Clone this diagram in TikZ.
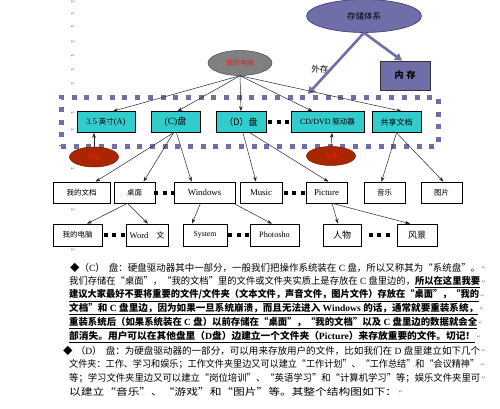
\documentclass[tikz,border=0pt]{standalone}
\usepackage{fontspec}
\usepackage{graphicx}
\setmainfont{Liberation Serif}
\newfontfamily\cjk{Noto Sans CJK SC}
\newfontfamily\dv{DejaVu Sans}
\usetikzlibrary{arrows.meta,calc,shapes.geometric}
\definecolor{slate}{RGB}{112,110,168}
\definecolor{slatedark}{RGB}{62,60,112}
\definecolor{teal1}{RGB}{51,204,204}
\definecolor{redtxt}{RGB}{235,30,30}
\definecolor{brick}{RGB}{170,38,0}
\newcommand\ret{{\dv\fontsize{5}{5}\selectfont\color{gray}↵}}
\newcommand\bx[1]{\cjk\fontsize{#1}{#1}\selectfont}
\newcommand\lx[2]{{\rmfamily\fontsize{#1}{#1}\selectfont #2}}
\newcommand\pt[1]{{\rmfamily #1}}
\newcommand\bu[1]{\underline{\bfseries #1}}
\begin{document}
\begin{tikzpicture}[x=1pt,y=-1pt,
  tealbox/.style={draw=black, fill=teal1, line width=0.6pt, inner sep=0pt, minimum height=21pt},
  whitebox/.style={draw=black, fill=white, line width=0.6pt, inner sep=0pt, minimum height=21pt},
  arr/.style={draw=black!85, line width=0.5pt, -{Stealth[length=5pt,width=3.6pt]}},
  bigarr/.style={draw=slate, line width=2.6pt, -{Triangle[length=7pt,width=8pt]}},
  dotlink/.style={draw=black, line width=4pt, dash pattern=on 4pt off 4.5pt},
  margin/.style={inner sep=0pt},
  pline/.style={anchor=west, inner sep=0pt},
  redell/.style={ellipse, draw=brick!70!black, fill=brick, line width=0.5pt, inner sep=0pt, minimum width=49pt, minimum height=20pt, text=redtxt}
]
\useasboundingbox (0,0) rectangle (500,408);
\fill[white] (0,0) rectangle (500,408);

% margin return marks
\foreach \yy [count=\i] in {2,14,27,42,56,70,84,113,130,169,210,250}
  \node[margin] (m\i) at (73,\yy) {\ret};

% dotted frame
\node[draw=slate, line width=5pt, dash pattern=on 5pt off 7.7pt, minimum width=377pt, minimum height=49pt, inner sep=0pt] (frame) at (249.5,121.5) {};

% storage system
\node[ellipse, draw=slatedark, fill=slate, line width=0.6pt, minimum width=115pt, minimum height=33pt, inner sep=0pt] (st) at (364,16) {\bx{8.5}存储体系};
\node[draw=black!80, fill=slate, line width=0.8pt, minimum width=50pt, minimum height=29pt, inner sep=0pt] (nc) at (405,75.5) {\bx{9}\bfseries 内\hspace{3pt}存};
\node[inner sep=0pt] (wc) at (322,69) {\bx{8.5}外存\ret};
\coordinate (wcend) at (308,94);
\draw[bigarr] (st.south) -- (wcend);
\draw[bigarr] (st.south) -- ([xshift=-3pt]nc.north);

% my computer
\node[ellipse, draw=black!70, fill=black!50, line width=0.5pt, minimum width=64pt, minimum height=25pt, inner sep=0pt, text=redtxt] (pc) at (240,63) {\bx{7}我的电脑};

% row 1
\node[tealbox, minimum width=58pt] (A) at (106,122) {\bx{7.5}\lx{8.5}{3.5} 英寸\lx{8.5}{(A)}};
\node[tealbox, minimum width=49pt] (C) at (175.5,122) {\bx{9}\lx{9.5}{(C)}盘};
\node[tealbox, minimum width=50pt] (D) at (241,122) {\bx{9}（D）盘};
\node[tealbox, minimum width=73pt] (CD) at (327.5,122) {\bx{7.5}\lx{8}{CD/DVD} 驱动器};
\node[tealbox, minimum width=49pt] (S) at (396.5,122) {\bx{8}共享文档};

% red ellipses
\node[redell] (rl) at (94,157) {\bx{6.5}软盘};
\node[redell, minimum height=19pt] (rr) at (331,156) {\bx{6.5}光盘};

% row 2
\node[whitebox, minimum width=57pt] (wd) at (81.5,192.5) {\bx{7.5}我的文档};
\node[whitebox, minimum width=41pt] (zm) at (134.5,192.5) {\bx{7.5}桌面};
\node[whitebox, minimum width=61pt] (win) at (204.5,192.5) {\lx{8.8}{Windows}};
\node[whitebox, minimum width=42pt] (mus) at (261,192.5) {\lx{8.8}{Music}};
\node[whitebox, minimum width=41pt] (pic) at (326.5,192.5) {\lx{8.8}{Picture}};
\node[whitebox, minimum width=41pt] (yy) at (384.5,192.5) {\bx{7.5}音乐};
\node[whitebox, minimum width=41pt] (tp) at (441.5,192.5) {\bx{7.5}图片};

% row 3
\node[whitebox, minimum width=49pt, minimum height=22pt] (dn) at (77.5,235) {\bx{7.5}我的电脑};
\node[whitebox, minimum width=42pt, minimum height=22pt] (word) at (147,235) {\bx{8}\lx{8.5}{Word}\hspace{8pt}文};
\node[whitebox, minimum width=44pt, minimum height=22pt] (sys) at (205,235) {\lx{7.8}{System}};
\node[whitebox, minimum width=49pt, minimum height=22pt] (ps) at (274.5,235) {\lx{8.2}{Photosho}};
\node[whitebox, minimum width=38pt, minimum height=22pt] (rw) at (342,235) {\bx{9}人物};
\node[whitebox, minimum width=40pt, minimum height=22pt] (fj) at (417,235) {\bx{9}风景};

% three-dot links
\foreach \a/\b in {D/CD, zm/win, mus/pic, dn/word, sys/ps, rw/fj}
  \draw[dotlink] ($(\a.east)!0.5!(\b.west)$) ++(-10.5,0) -- ++(21,0);

% arrows from my computer
\draw[arr] (pc.south) -- ([xshift=7pt]A.north);
\draw[arr] (pc.south) -- ([xshift=2pt]C.north);
\draw[arr] (pc.south) -- (D.north);
\draw[arr] (pc.south) -- ([xshift=-15pt]CD.north);
\draw[arr] (pc.south) -- ([xshift=5pt]S.north);

% red ellipse arrows
\draw[arr] (rl.north) -- ([xshift=-12pt]A.south);
\draw[arr] (rr.north) -- ([xshift=4.5pt]CD.south);

% tree arrows
\draw[arr] ([xshift=-2pt]C.south) -- ([xshift=14pt]wd.north);
\draw[arr] ([xshift=-2pt]C.south) -- ([xshift=9pt]zm.north);
\draw[arr] ([xshift=1pt]C.south) -- ([xshift=-13pt]win.north);
\draw[arr] ([xshift=2pt]D.south) -- ([xshift=-5pt]mus.north);
\draw[arr] ([xshift=9pt]D.south) -- ([xshift=2pt]pic.north);
\draw[arr] ([xshift=0pt]S.south) -- ([xshift=-3pt]yy.north);
\draw[arr] ([xshift=0pt]S.south) -- ([xshift=2pt]tp.north);
\draw[arr] ([xshift=-7pt]zm.south) -- ([xshift=9.5pt]dn.north);
\draw[arr] ([xshift=-7pt]zm.south) -- ([xshift=1pt]word.north);
\draw[arr] ([xshift=-4pt]win.south) -- ([xshift=-13pt]sys.north);
\draw[arr] ([xshift=-2pt]win.south east) -- ([xshift=-2.5pt]ps.north);
\draw[arr] ([xshift=5.5pt]pic.south) -- ([xshift=-4pt]rw.north);
\draw[arr] ([xshift=5.5pt]pic.south) -- ([xshift=-7pt]fj.north);

% paragraph
\node[pline] (l1) at (70,268) {\resizebox{410pt}{\height}{\bx{9.5}◆（\pt{C}）\hspace{4pt}盘：硬盘驱动器其中一部分，一般我们把操作系统装在\pt{ C }盘，所以又称其为“系统盘”。}};
\node[pline] (l2) at (69,281.8) {\resizebox{411pt}{\height}{\bx{9.5}我们存储在“桌面”，“我的文档”里的文件或文件夹实质上是存放在\pt{ C }盘里边的，\bu{所以在这里我要}}};
\node[pline] (l3) at (69,295.6) {\resizebox{410pt}{\height}{\bx{9.5}\bu{建议大家最好不要将重要的文件/文件夹（文本文件，声音文件，图片文件）存放在“桌面”，“我的}}};
\node[pline] (l4) at (69,309.4) {\resizebox{409pt}{\height}{\bx{9.5}\bu{文档”和\pt{ C }盘里边，因为如果一旦系统崩溃，而且无法进入\pt{ Windows }的话，通常就要重装系统，}}};
\node[pline] (l5) at (69,323.2) {\resizebox{408pt}{\height}{\bx{9.5}\bu{重装系统后（如果系统装在\pt{ C }盘）以前存储在“桌面”，“我的文档”以及\pt{ C }盘里边的数据就会全}}};
\node[pline] (l6) at (69,337) {\resizebox{406pt}{\height}{\bx{9.5}\bu{部消失。用户可以在其他盘里（\pt{D}盘）边建立一个文件夹（\pt{Picture}）来存放重要的文件。切记！}}};
\node[pline] (l7) at (63,350.8) {\resizebox{417pt}{\height}{\bx{9.5}◆\hspace{3pt}（\pt{D}）\hspace{4pt}盘：为硬盘驱动器的一部分，可以用来存放用户的文件，比如我们在\pt{ D }盘里建立如下几个}};
\node[pline] (l8) at (69,364.6) {\resizebox{410pt}{\height}{\bx{9.5}文件夹：工作、学习和娱乐；工作文件夹里边又可以建立“工作计划”、“工作总结”和“会议精神”}};
\node[pline] (l9) at (69,378.4) {\resizebox{411pt}{\height}{\bx{9.5}等；学习文件夹里边又可以建立“岗位培训”、“英语学习”和“计算机学习”等；娱乐文件夹里可}};
\node[pline] (l10) at (69,392.2) {\resizebox{328pt}{\height}{\bx{9.5}以建立“音乐”、“游戏”和“图片”等。其整个结构图如下：}};
\foreach \i in {1,...,10}
  \node[anchor=west, inner sep=1pt] (r\i) at (l\i.east) {\ret};
\end{tikzpicture}
\end{document}
